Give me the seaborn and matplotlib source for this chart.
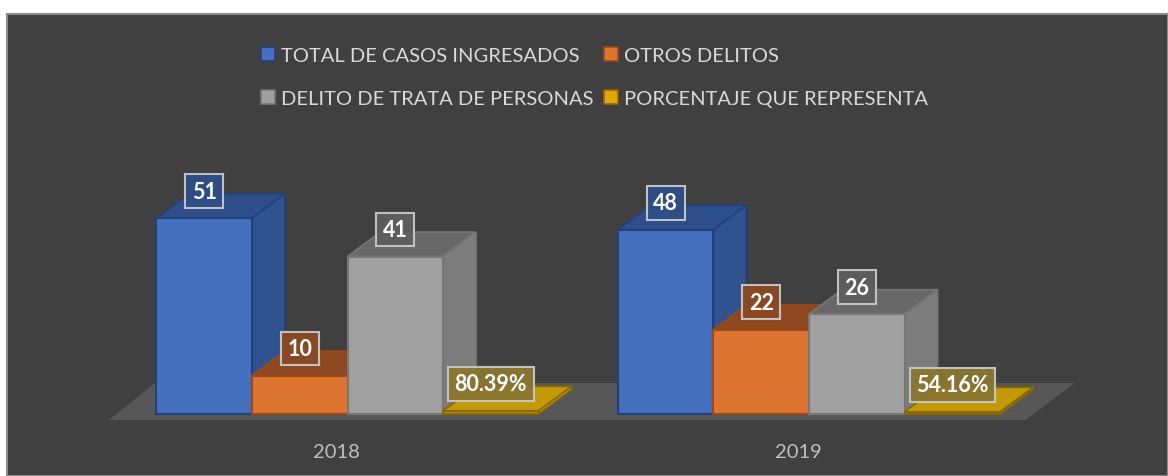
import matplotlib
matplotlib.use("Agg")
import matplotlib.pyplot as plt
import seaborn as sns
import pandas as pd
from matplotlib.patches import Polygon, Rectangle, Patch
from matplotlib.transforms import ScaledTranslation

# ---------------- data ----------------
years = ["2018", "2019"]
series = ["TOTAL DE CASOS INGRESADOS", "OTROS DELITOS",
          "DELITO DE TRATA DE PERSONAS", "PORCENTAJE QUE REPRESENTA"]
total_casos = [51, 48]
otros_delitos = [10, 22]
trata_personas = [41, 26]
porcentaje = [0.8039, 0.5416]
porcentaje_labels = ["80.39%", "54.16%"]

# ---------------- style ----------------
front_colors = ["#4470BE", "#DC7532", "#A0A0A0", "#B8900C"]
side_colors = ["#30528F", "#A9511E", "#7C7C7C", "#C9A000"]
top_colors = ["#2E4E89", "#8E4820", "#686868", "#C29A08"]
edge_colors = ["#22407A", "#9A4A18", "#777777", "#8A6A00"]
box_colors = ["#2F4E87", "#8A4A25", "#5E5E5E", "#8A7630"]

W, H = 1168, 477
fig = plt.figure(figsize=(W / 100, H / 100), dpi=100, facecolor="white")
plt.rcParams["font.family"] = ["Lato", "DejaVu Sans"]

fig.patches.append(Rectangle((7 / W, 0), 1 - 7 / W, (H - 15) / H,
                             transform=fig.transFigure, facecolor="#404040",
                             edgecolor="#8a8a8a", linewidth=1.5, zorder=-5))

ax = fig.add_axes([0, (H - 430) / H, 1, (430 - 15) / H])
ax.set_facecolor("none")
ax.set_zorder(2)

df = pd.DataFrame({
    "year": years * 4,
    "serie": [s for s in series for _ in years],
    "value": total_casos + otros_delitos + trata_personas + porcentaje,
})

sns.barplot(data=df, x="year", y="value", hue="serie", order=years,
            hue_order=series, palette=front_colors, width=0.828,
            saturation=1, legend=False, ax=ax, errorbar=None)

bars = [b for b in ax.patches if isinstance(b, Rectangle)]
bars = sorted(bars, key=lambda p: p.get_x())

ax.set_xlim(-347.5 / 461.5, (W - 347.5) / 461.5)
ax.set_ylim(-15 / 3.84, 400 / 3.84)

# depth of the pseudo 3D bars (data units)
dx = 33 / 461.5
dy = 24.5 / 3.84

# floor
floor_front_y = -6 / 3.84
floor_back_y = 31 / 3.84
ax.add_patch(Polygon([(-0.517, floor_front_y), (1.470, floor_front_y),
                      (1.576, floor_back_y), (-0.417, floor_back_y)],
                     closed=True, facecolor="#575757", edgecolor="none", zorder=2))

values_by_series = [total_casos, otros_delitos, trata_personas, porcentaje]
for i, p in enumerate(bars):
    g, s = i // 4, i % 4
    x0, w, h = p.get_x(), p.get_width(), p.get_height()
    base = 10 + 3 * i
    ax.add_patch(Polygon([(x0, h), (x0 + w, h), (x0 + w + dx, h + dy), (x0 + dx, h + dy)],
                         closed=True, facecolor=top_colors[s], edgecolor=edge_colors[s],
                         linewidth=1.2, zorder=base))
    ax.add_patch(Polygon([(x0 + w, 0), (x0 + w + dx, dy), (x0 + w + dx, h + dy), (x0 + w, h)],
                         closed=True, facecolor=side_colors[s], edgecolor=edge_colors[s],
                         linewidth=1.2, zorder=base + 1))
    p.set_facecolor(front_colors[s])
    p.set_edgecolor(edge_colors[s])
    p.set_linewidth(1.5)
    p.set_zorder(base + 2)
    txt = porcentaje_labels[g] if s == 3 else str(values_by_series[s][g])
    ax.annotate(txt, xy=(x0 + w / 2, h), xytext=(0, 19.5), textcoords="offset points",
                ha="center", va="center", fontsize=15.5, fontweight="bold", color="white",
                bbox=dict(boxstyle="square,pad=0.3", facecolor=box_colors[s],
                          edgecolor="#c8c8c8", linewidth=1.5, alpha=0.95),
                zorder=200)

# axes decoration
for sp in ax.spines.values():
    sp.set_visible(False)
ax.set_yticks([])
ax.set_xlabel("")
ax.set_ylabel("")
ax.set_xticks(range(len(years)))
ax.set_xticklabels(years, fontsize=14.5, color="#bfbfbf")
ax.tick_params(axis="x", length=0, pad=10)
off = ScaledTranslation(-11 / 100, 0, fig.dpi_scale_trans)
for lab in ax.get_xticklabels():
    lab.set_transform(lab.get_transform() + off)

# legend
order = [0, 2, 1, 3]
handles = [Patch(facecolor=front_colors[k] if k != 3 else "#E0A800",
                 edgecolor=edge_colors[k], linewidth=1.2) for k in order]
labels = [series[k] for k in order]
leg = fig.legend(handles, labels, ncol=2, loc="upper left",
                 bbox_to_anchor=(261 / W, 1 - 48 / H), frameon=False,
                 fontsize=14.5, labelcolor="#d9d9d9", handlelength=0.7,
                 handleheight=0.7, handletextpad=0.3, columnspacing=0.5,
                 labelspacing=1.3, borderpad=0, borderaxespad=0)
leg.set_zorder(5)

fig.savefig("out.png", dpi=100, facecolor=fig.get_facecolor())
